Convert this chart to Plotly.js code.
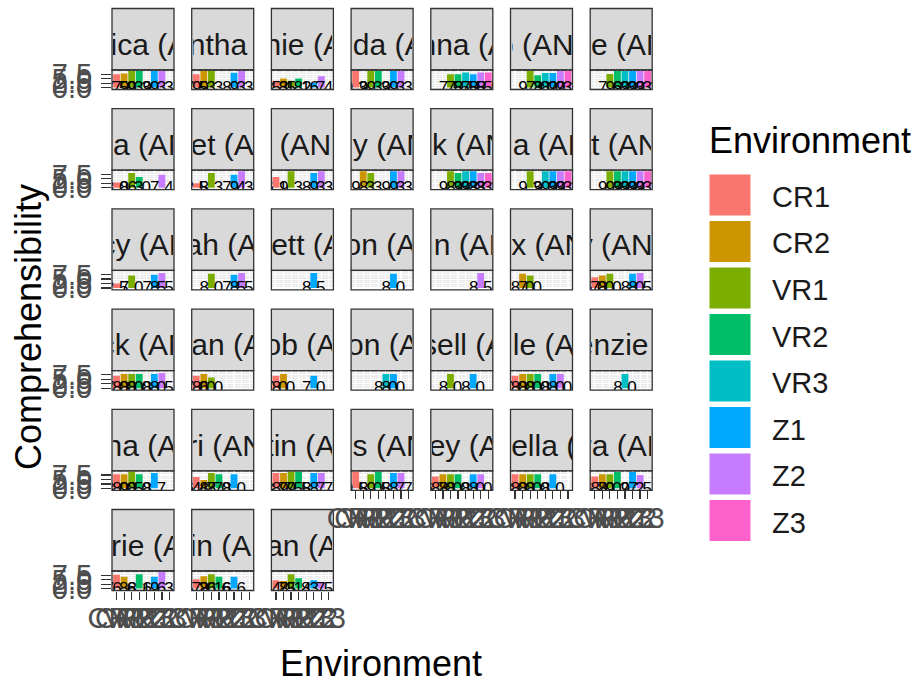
<!DOCTYPE html>
<html><head><meta charset="utf-8">
<script src="https://cdn.plot.ly/plotly-3.0.1.min.js"></script>
<style>html,body{margin:0;padding:0;background:#fff}#chart{width:924px;height:683px}</style>
</head><body><div id="chart"></div>
<script>
const environments = ['CR1','CR2','VR1','VR2','VR3','Z1','Z2','Z3'];
const envColors = ['#F8766D','#CD9600','#7CAE00','#00BE67','#00BFC4','#00A9FF','#C77CFF','#FF61CC'];
const participants = [
  'Jessica (ANZ)','Samantha (ANZ)','Sophie (ANZ)','Brenda (ANZ)','Brianna (ANZ)','Jo (ANZ)','Kate (ANZ)',
  'Nina (ANZ)','Janet (ANZ)','Al (ANZ)','Amy (ANZ)','Nick (ANZ)','Gina (ANZ)','Pat (ANZ)',
  'Lucy (ANZ)','Sarah (ANZ)','Garrett (ANZ)','Jason (ANZ)','John (ANZ)','Max (ANZ)','Ty (ANZ)',
  'Jack (ANZ)','Megan (ANZ)','Jacob (ANZ)','Simon (ANZ)','Russell (ANZ)','Adele (ANZ)','Mackenzie (ANZ)',
  'Tasha (ANZ)','Lori (ANZ)','Justin (ANZ)','Wes (ANZ)','Casey (ANZ)','Gabriella (ANZ)','Sara (ANZ)',
  'Valerie (ANZ)','Colin (ANZ)','Logan (ANZ)'
];
const yTicks = [0, 2.5, 5, 7.5];
const yTickText = ['0.0','2.5','5.0','7.5'];
// Comprehensibility per environment (CR1, CR2, VR1, VR2, VR3, Z1, Z2, Z3)
const scoresRow1 = [
  [7.5, 7.9, 9.3, 9.3, null, 9.3, 9.3, null],
  [7.5, 9.3, 9.3, null, null, 8.3, 9.3, null],
  [3.8, 5.1, 3.8, 5.1, null, 2.7, 6.4, null],
  [9.3, null, 9.3, 9.3, null, 9.3, 9.3, null],
  [null, null, 7.5, 7.5, 8.5, 7.5, 8.5, 8.5],
  [null, null, 9.3, 7.0, 8.2, 8.2, 9.3, 9.3],
  [null, null, 7.6, 9.3, 9.3, 9.3, 9.3, 9.3]
];
const scoresRow2 = [
  [3.0, null, 8.3, 6.0, null, null, 7.4, null],
  [2.5, null, 8.3, null, null, 7.4, 9.3, null],
  [6.1, null, 9.3, null, null, 8.3, 9.3, null],
  [null, 9.3, 8.3, null, null, 9.3, 9.3, null],
  [null, null, 9.3, 8.3, 9.3, 9.3, 8.3, 8.3],
  [null, null, 9.3, null, 9.3, 9.3, 9.3, 9.3],
  [null, null, 9.3, 9.3, 9.3, 9.3, 9.3, 9.3]
];
const scoresRow3 = [
  [2.5, null, 7.0, null, null, 7.5, 8.5, null],
  [null, null, 8.0, null, null, 7.5, 8.5, null],
  [null, null, null, null, null, 8.5, null, null],
  [null, null, null, null, null, 8.0, null, null],
  [null, null, null, null, null, null, 8.5, null],
  [null, 8.0, 7.0, null, null, null, null, null],
  [6.0, 7.0, 8.0, null, null, 8.0, 8.5, null]
];
const scoresRow4 = [
  [7.0, 8.0, 8.0, 8.0, null, 8.0, 8.5, null],
  [7.0, 8.0, 6.0, null, null, null, null, null],
  [7.0, 8.0, null, null, null, 7.0, null, null],
  [null, null, null, null, 8.0, 8.0, null, null],
  [null, null, 8.0, null, null, 8.0, null, null],
  [7.0, 8.0, 8.0, 8.0, null, 8.0, 8.0, null],
  [null, null, null, null, 8.0, null, null, null]
];
const scoresRow5 = [
  [8.0, 8.0, 9.5, 8.0, null, 8.7, null, null],
  [6.4, 4.7, 8.7, 8.0, null, 8.0, null, null],
  [8.7, 8.7, 9.5, 9.5, null, 8.7, 8.7, null],
  [9.5, null, 8.0, 9.5, null, 8.7, 8.7, null],
  [6.7, 8.0, 8.0, 8.0, null, 8.0, 8.0, null],
  [8.0, 8.0, 8.0, 8.0, null, 8.0, null, null],
  [6.7, 8.0, 8.0, 9.2, null, 9.2, 7.5, null]
];
const scoresRow6 = [
  [7.8, 6.6, null, 8.1, null, 6.6, 9.3, null],
  [5.2, 7.0, 8.1, 6.6, null, 6.6, null, null],
  [4.7, 4.3, 8.1, 5.8, null, 4.7, 3.5, null]
];

const allScores = [].concat(scoresRow1, scoresRow2, scoresRow3, scoresRow4, scoresRow5, scoresRow6);

const W = 924, H = 683;
const px = x => x / W, py = y => 1 - y / H;
const colLeft = c => 112 + c * 79.7;
const panelTopOf = r => 70 + r * 100.2;
const panelW = 62, panelH = 19.5, stripH = 61.5;
const nPanels = participants.length;
const firstBottom = nPanels - 7;

const data = [], shapes = [], annotations = [];
const layout = {
  width: W, height: H, margin: {l: 0, r: 0, t: 0, b: 0},
  paper_bgcolor: '#fff', plot_bgcolor: '#EBEBEB', showlegend: false,
  font: {family: 'Liberation Sans, Arial, sans-serif'}
};

for (let i = 0; i < nPanels; i++) {
  const r = Math.floor(i / 7), c = i % 7;
  const sfx = i === 0 ? '' : String(i + 1);
  const l = colLeft(c), top = panelTopOf(r);
  const bottom = (i >= firstBottom);
  layout['xaxis' + sfx] = {
    domain: [px(l), px(l + panelW)], anchor: 'y' + sfx,
    type: 'category', categoryorder: 'array', categoryarray: environments,
    tickmode: 'array', tickvals: environments, ticktext: environments,
    range: [-0.6, 7.6], showgrid: true, gridcolor: '#fff', gridwidth: 1.1,
    showticklabels: bottom, ticks: bottom ? 'outside' : '', ticklen: 8, tickwidth: 1.2, tickcolor: '#333',
    ticklabelstandoff: -6,
    tickfont: {size: 29, color: '#4D4D4D'}, tickangle: 0, zeroline: false, showline: false, fixedrange: true
  };
  layout['yaxis' + sfx] = {
    domain: [py(top + panelH), py(top)], anchor: 'x' + sfx,
    range: [-1.1, 9.9], tickmode: 'array', tickvals: yTicks, ticktext: yTickText,
    showgrid: true, gridcolor: '#fff', gridwidth: 1.1,
    minor: {tickvals: [1.25, 3.75, 6.25, 8.75], showgrid: true, gridcolor: '#fff', gridwidth: 0.5},
    showticklabels: c === 0, ticks: c === 0 ? 'outside' : '', ticklen: 10, tickwidth: 1.2, tickcolor: '#333',
    ticklabelstandoff: 3,
    tickfont: {size: 29, color: '#4D4D4D'}, zeroline: false, showline: false, fixedrange: true
  };
  const vals = allScores[i];
  data.push({
    type: 'bar', x: environments, y: vals, width: 0.9,
    marker: {color: envColors, line: {width: 0}},
    xaxis: 'x' + sfx, yaxis: 'y' + sfx, hoverinfo: 'skip'
  });
  const tx = [], ty = [], tt = [];
  vals.forEach((v, k) => { if (v !== null) { tx.push(environments[k]); ty.push(-0.6); tt.push(v.toFixed(1)); } });
  data.push({
    type: 'scatter', mode: 'text', x: tx, y: ty, text: tt,
    textfont: {size: 17, color: '#000'}, textposition: 'middle center', cliponaxis: true,
    xaxis: 'x' + sfx, yaxis: 'y' + sfx, hoverinfo: 'skip'
  });
  // strip
  shapes.push({type: 'rect', xref: 'paper', yref: 'paper',
    x0: px(l), x1: px(l + panelW), y0: py(top), y1: py(top - stripH),
    fillcolor: '#D9D9D9', line: {color: '#333', width: 1.3}, layer: 'below'});
  // panel border
  shapes.push({type: 'rect', xref: 'paper', yref: 'paper',
    x0: px(l), x1: px(l + panelW), y0: py(top + panelH), y1: py(top),
    fillcolor: 'rgba(0,0,0,0)', line: {color: '#333', width: 1.3}, layer: 'above'});
  annotations.push({xref: 'paper', yref: 'paper', x: px(l + panelW / 2), y: py(top - stripH / 2 + 5),
    xanchor: 'center', yanchor: 'middle', width: panelW - 2, align: 'center',
    text: participants[i], showarrow: false, font: {size: 30, color: '#1A1A1A'}});
}

// axis titles
annotations.push({xref: 'paper', yref: 'paper', x: px(28), y: py(327), xanchor: 'center', yanchor: 'middle',
  text: 'Comprehensibility', textangle: -90, showarrow: false, font: {size: 36, color: '#000'}});
annotations.push({xref: 'paper', yref: 'paper', x: px(381), y: py(663), xanchor: 'center', yanchor: 'middle',
  text: 'Environment', showarrow: false, font: {size: 36, color: '#000'}});

// legend
annotations.push({xref: 'paper', yref: 'paper', x: px(707), y: py(140), xanchor: 'left', yanchor: 'middle',
  text: 'Environment', showarrow: false, font: {size: 36, color: '#000'}});
environments.forEach((e, k) => {
  const y0 = 174 + k * 46.5;
  shapes.push({type: 'rect', xref: 'paper', yref: 'paper', x0: px(709), x1: px(751), y0: py(y0 + 42), y1: py(y0),
    fillcolor: envColors[k], line: {color: '#fff', width: 1}});
  annotations.push({xref: 'paper', yref: 'paper', x: px(770), y: py(y0 + 23), xanchor: 'left', yanchor: 'middle',
    text: e, showarrow: false, font: {size: 29, color: '#1A1A1A'}});
});

layout.shapes = shapes;
layout.annotations = annotations;
Plotly.newPlot('chart', data, layout, {staticPlot: true, displayModeBar: false});
</script>
</body></html>
